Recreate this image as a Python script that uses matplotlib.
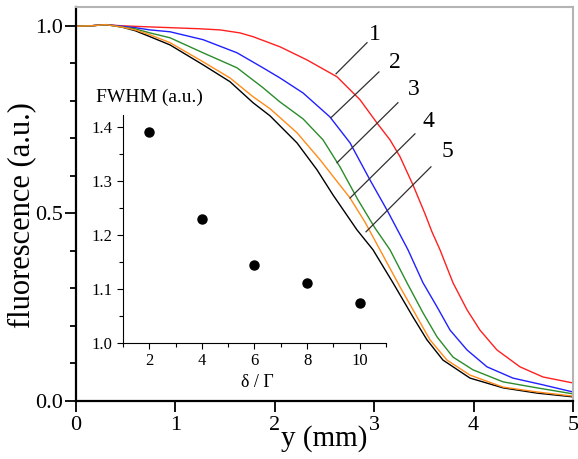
import matplotlib
matplotlib.use("Agg")
import matplotlib.pyplot as plt
from matplotlib.ticker import MultipleLocator, FormatStrFormatter

plt.rcParams['font.family'] = ['Liberation Serif', 'DejaVu Serif']

# curve 1..5, position y (mm) and normalised fluorescence
y1 = [0, 0.151, 0.302, 0.453, 0.744, 0.946, 1.247, 1.449, 1.650, 1.781, 2.052, 2.324, 2.626, 2.857,
      3.028, 3.159, 3.260, 3.390, 3.511, 3.581, 3.662, 3.793, 3.934, 4.064, 4.235, 4.467, 4.698, 5.0]
f1 = [0.999, 1.000, 1.003, 1.000, 0.997, 0.995, 0.992, 0.989, 0.981, 0.971, 0.944, 0.909, 0.864, 0.803,
      0.741, 0.696, 0.651, 0.576, 0.499, 0.451, 0.403, 0.315, 0.243, 0.189, 0.136, 0.091, 0.064, 0.048]

y2 = [0, 0.151, 0.302, 0.453, 0.594, 0.744, 0.946, 1.278, 1.620, 1.881, 2.052, 2.284, 2.555, 2.757,
      2.958, 3.139, 3.340, 3.491, 3.632, 3.763, 3.934, 4.135, 4.396, 4.698, 5.0]
f2 = [0.999, 1.000, 1.003, 0.999, 0.995, 0.989, 0.984, 0.963, 0.928, 0.888, 0.861, 0.821, 0.757, 0.688,
      0.589, 0.504, 0.403, 0.315, 0.251, 0.189, 0.136, 0.091, 0.061, 0.043, 0.024]

y3 = [0, 0.151, 0.302, 0.453, 0.594, 0.744, 0.946, 1.278, 1.620, 1.881, 2.052, 2.284, 2.485, 2.656,
      2.837, 3.008, 3.159, 3.330, 3.491, 3.632, 3.793, 3.994, 4.296, 4.638, 5.0]
f3 = [0.999, 1.000, 1.003, 0.997, 0.992, 0.981, 0.968, 0.928, 0.888, 0.835, 0.797, 0.752, 0.696, 0.624,
      0.536, 0.461, 0.403, 0.315, 0.235, 0.171, 0.117, 0.083, 0.051, 0.035, 0.019]

y4 = [0, 0.151, 0.302, 0.453, 0.594, 0.744, 0.946, 1.278, 1.549, 1.781, 1.952, 2.223, 2.455, 2.757,
      2.907, 3.058, 3.260, 3.431, 3.561, 3.732, 3.964, 4.296, 4.638, 5.0]
f4 = [0.999, 1.000, 1.003, 0.997, 0.989, 0.976, 0.955, 0.904, 0.861, 0.811, 0.779, 0.715, 0.643, 0.541,
      0.477, 0.403, 0.304, 0.224, 0.163, 0.109, 0.069, 0.037, 0.024, 0.013]

y5 = [0, 0.151, 0.302, 0.453, 0.594, 0.744, 0.946, 1.278, 1.549, 1.781, 1.952, 2.223, 2.425, 2.586,
      2.827, 2.988, 3.189, 3.390, 3.531, 3.692, 3.964, 4.296, 4.638, 5.0]
f5 = [0.999, 1.000, 1.003, 0.997, 0.987, 0.971, 0.949, 0.896, 0.851, 0.795, 0.760, 0.688, 0.616, 0.549,
      0.456, 0.403, 0.315, 0.224, 0.163, 0.109, 0.061, 0.035, 0.021, 0.011]

curve_labels = ['1', '2', '3', '4', '5']

# inset: FWHM vs detuning
detuning = [2, 4, 6, 8, 10]
fwhm = [1.391, 1.230, 1.144, 1.111, 1.074]

fig = plt.figure(figsize=(5.78, 4.59), dpi=100)
ax = fig.add_axes([0.1315, 0.1264, 0.8598, 0.8583])

ax.plot(y5, f5, color='black', lw=1.0)
ax.plot(y1, f1, color='#ff2020', lw=1.0)
ax.plot(y2, f2, color='#2020ff', lw=1.0)
ax.plot(y3, f3, color='#2a8c2a', lw=1.0)
ax.plot(y4, f4, color='#ff8c1a', lw=1.0)

# leader lines with the curve numbers
leaders = [((2.616, 0.872), (2.928, 0.955)),
           ((2.565, 0.755), (3.048, 0.877)),
           ((2.626, 0.635), (3.239, 0.795)),
           ((2.757, 0.541), (3.410, 0.712)),
           ((2.918, 0.451), (3.571, 0.624))]
label_pos = [(3.01, 0.976), (3.21, 0.901), (3.40, 0.829), (3.55, 0.744), (3.74, 0.664)]
for (p0, p1), txt, pos in zip(leaders, curve_labels, label_pos):
    ax.plot([p0[0], p1[0]], [p0[1], p1[1]], color='#303030', lw=0.9)
    ax.text(pos[0], pos[1], txt, fontsize=17, ha='center', va='center')

ax.set_xlim(0, 5)
ax.set_ylim(0, 1.05)
ax.xaxis.set_major_locator(MultipleLocator(1))
ax.yaxis.set_major_locator(MultipleLocator(0.5))
ax.yaxis.set_minor_locator(MultipleLocator(0.1))
ax.yaxis.set_major_formatter(FormatStrFormatter('%.1f'))
ax.tick_params(axis='both', which='major', direction='out', length=8, width=1.3, labelsize=16)
ax.tick_params(axis='x', which='major', pad=3)
ax.tick_params(axis='y', which='major', pad=1.5)
ax.tick_params(axis='y', which='minor', direction='out', length=4.5, width=1.3)
for s in ['left', 'bottom']:
    ax.spines[s].set_linewidth(1.6)
for s in ['top', 'right']:
    ax.spines[s].set_color('#b4b4b4')
    ax.spines[s].set_linewidth(1.5)

ax.set_xlabel('y (mm)', fontsize=21, va='center')
ax.xaxis.set_label_coords(0.5, -0.095)
ax.set_ylabel('fluorescence (a.u.)', fontsize=22, va='center')
ax.yaxis.set_label_coords(-0.11, 0.472)

# inset
ins = fig.add_axes([0.2128, 0.2527, 0.455, 0.4967])
ins.patch.set_alpha(0)
ins.plot(detuning, fwhm, 'o', color='black', ms=6.5)
ins.set_xlim(1, 11)
ins.set_ylim(1.0, 1.422)
ins.xaxis.set_major_locator(MultipleLocator(2))
ins.xaxis.set_minor_locator(MultipleLocator(1))
ins.yaxis.set_major_locator(MultipleLocator(0.1))
ins.yaxis.set_minor_locator(MultipleLocator(0.05))
ins.yaxis.set_major_formatter(FormatStrFormatter('%.1f'))
ins.set_xticks([2, 4, 6, 8, 10])
ins.tick_params(which='major', direction='out', length=4.5, width=0.8, labelsize=12, pad=3)
ins.tick_params(which='minor', direction='out', length=3, width=0.8)
ins.spines['top'].set_visible(False)
ins.spines['right'].set_visible(False)
for s in ['left', 'bottom']:
    ins.spines[s].set_linewidth(0.8)

fig.text(0.166, 0.789, 'FWHM (a.u.)', fontsize=14, ha='left', va='center')
fig.text(0.446, 0.166, 'δ / Γ', fontsize=13, ha='center', va='center')

fig.savefig('out.png', dpi=100)
